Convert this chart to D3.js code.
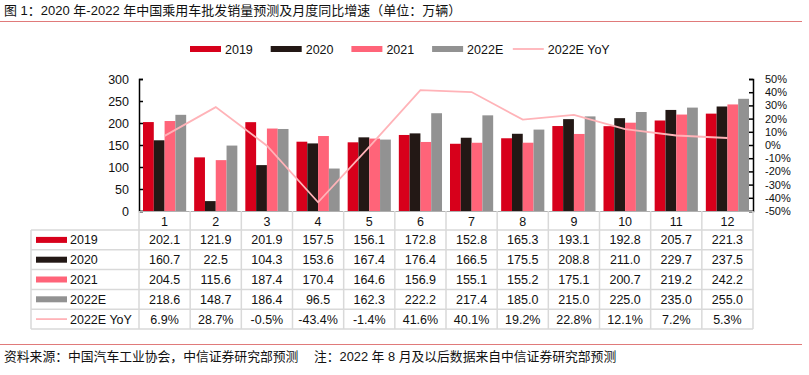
<!DOCTYPE html>
<html>
<head>
<meta charset="utf-8">
<script src="https://cdn.jsdelivr.net/npm/d3@7"></script>
<style>
  body { margin: 0; background: #fff; }
  text { font-family: "Liberation Sans", Arial, "Noto Sans CJK SC", sans-serif; fill: #111; }
</style>
</head>
<body>
<script>
  const months = ['1', '2', '3', '4', '5', '6', '7', '8', '9', '10', '11', '12'];
  const seriesNames = ['2019', '2020', '2021', '2022E'];
  const v2019 = [202.1, 121.9, 201.9, 157.5, 156.1, 172.8, 152.8, 165.3, 193.1, 192.8, 205.7, 221.3];
  const v2020 = [160.7, 22.5, 104.3, 153.6, 167.4, 176.4, 166.5, 175.5, 208.8, 211.0, 229.7, 237.5];
  const v2021 = [204.5, 115.6, 187.4, 170.4, 164.6, 156.9, 155.1, 155.2, 175.1, 200.7, 219.2, 242.2];
  const v2022 = [218.6, 148.7, 186.4, 96.5, 162.3, 222.2, 217.4, 185.0, 215.0, 225.0, 235.0, 255.0];
  const yoy = [6.9, 28.7, -0.5, -43.4, -1.4, 41.6, 40.1, 19.2, 22.8, 12.1, 7.2, 5.3];
  const leftTicks = [0, 50, 100, 150, 200, 250, 300];
  const rightTicks = [-50, -40, -30, -20, -10, 0, 10, 20, 30, 40, 50];

  const barValues = [v2019, v2020, v2021, v2022];
  const colors = ['#d7001b', '#231815', '#ff6479', '#929292'];
  const lineColor = '#ffb3b8';
  const gridColor = '#d9d9d9';

  const W = 809, H = 375;
  const plotL = 139, plotR = 753, plotT = 79, plotB = 211;
  const tableLeft = 31, rowH = 19.8, tableTop = 230;

  const svg = d3.select('body').append('svg')
    .attr('width', W).attr('height', H);

  // title + rules
  svg.append('text').attr('x', 4).attr('y', 15)
    .style('font-size', '13px')
    .text('图 1：2020 年-2022 年中国乘用车批发销量预测及月度同比增速（单位：万辆）');
  svg.append('line').attr('x1', 0).attr('x2', 802).attr('y1', 21.5).attr('y2', 21.5)
    .attr('stroke', '#e07a7a').attr('stroke-width', 1);
  svg.append('line').attr('x1', 0).attr('x2', 802).attr('y1', 344.5).attr('y2', 344.5)
    .attr('stroke', '#e07a7a').attr('stroke-width', 1);
  svg.append('text').attr('x', 4).attr('y', 361)
    .style('font-size', '12.8px')
    .text('资料来源：中国汽车工业协会，中信证券研究部预测');
  svg.append('text').attr('x', 314).attr('y', 361)
    .style('font-size', '12.8px')
    .text('注：2022 年 8 月及以后数据来自中信证券研究部预测');

  // scales
  const x = d3.scaleBand().domain(months).range([plotL, plotR]);
  const xs = d3.scaleBand().domain(seriesNames).range([0, x.bandwidth()]).paddingOuter(0.37);
  const y = d3.scaleLinear().domain([0, 300]).range([plotB, plotT]);
  const y2 = d3.scaleLinear().domain([-50, 50]).range([plotB, plotT]);

  // bars
  seriesNames.forEach((s, si) => {
    svg.append('g').selectAll('rect').data(barValues[si]).join('rect')
      .attr('x', (d, i) => x(months[i]) + xs(s))
      .attr('width', xs.bandwidth())
      .attr('y', d => y(d))
      .attr('height', d => y(0) - y(d))
      .attr('fill', colors[si]);
  });

  // YoY line
  svg.append('path').datum(yoy)
    .attr('fill', 'none').attr('stroke', lineColor).attr('stroke-width', 1.8)
    .attr('d', d3.line().x((d, i) => x(months[i]) + x.bandwidth() / 2).y(d => y2(d)));

  // axes
  const gl = svg.append('g').attr('transform', `translate(${plotL},0)`)
    .call(d3.axisLeft(y).tickValues(leftTicks).tickSize(-4).tickPadding(10));
  gl.select('.domain').attr('stroke', '#000').attr('stroke-width', 1.5);
  gl.selectAll('.tick line').attr('stroke', '#000').attr('stroke-width', 1.5);
  gl.selectAll('text').style('font-size', '12.5px').attr('fill', '#111');

  const gr = svg.append('g').attr('transform', `translate(${plotR},0)`)
    .call(d3.axisRight(y2).tickValues(rightTicks).tickSize(-4).tickPadding(12).tickFormat(d => d + '%'));
  gr.select('.domain').attr('stroke', '#000').attr('stroke-width', 1.5);
  gr.selectAll('.tick line').attr('stroke', '#000').attr('stroke-width', 1.5);
  gr.selectAll('text').style('font-size', '11px').attr('fill', '#111');

  // baseline
  svg.append('line').attr('x1', plotL).attr('x2', plotR).attr('y1', plotB + 0.5).attr('y2', plotB + 0.5)
    .attr('stroke', '#b0b0b0');

  // data table
  const rowLabels = ['2019', '2020', '2021', '2022E', '2022E YoY'];
  const rowData = [v2019, v2020, v2021, v2022, yoy];
  const tableBottom = tableTop + rowH * rowLabels.length;
  const grid = svg.append('g').attr('stroke', gridColor).attr('stroke-width', 1.5);
  d3.range(rowLabels.length + 1).forEach(r => {
    grid.append('line').attr('x1', tableLeft).attr('x2', plotR)
      .attr('y1', tableTop + r * rowH).attr('y2', tableTop + r * rowH);
  });
  grid.append('line').attr('x1', tableLeft).attr('x2', tableLeft).attr('y1', tableTop).attr('y2', tableBottom);
  months.forEach(m => {
    grid.append('line').attr('x1', x(m)).attr('x2', x(m)).attr('y1', plotB).attr('y2', tableBottom);
  });
  grid.append('line').attr('x1', plotR).attr('x2', plotR).attr('y1', plotB).attr('y2', tableBottom);

  svg.append('g').selectAll('text').data(months).join('text')
    .attr('x', d => x(d) + x.bandwidth() / 2).attr('y', plotB + 14.5)
    .attr('text-anchor', 'middle').style('font-size', '12.5px').text(d => d);

  rowLabels.forEach((lab, r) => {
    const cy = tableTop + r * rowH + rowH / 2;
    if (r < 4) {
      svg.append('rect').attr('x', 36).attr('y', cy - 3).attr('width', 31).attr('height', 6).attr('fill', colors[r]);
    } else {
      svg.append('line').attr('x1', 36).attr('x2', 67).attr('y1', cy).attr('y2', cy)
        .attr('stroke', lineColor).attr('stroke-width', 1.8);
    }
    svg.append('text').attr('x', 70).attr('y', cy + 4.5).style('font-size', '12.5px').text(lab);
    svg.append('g').selectAll('text').data(rowData[r]).join('text')
      .attr('x', (d, i) => x(months[i]) + x.bandwidth() / 2).attr('y', cy + 4.5)
      .attr('text-anchor', 'middle').style('font-size', '12.5px')
      .text(d => r < 4 ? d.toFixed(1) : d.toFixed(1) + '%');
  });

  // legend
  const legendNames = seriesNames.concat(['2022E YoY']);
  const lg = svg.append('g');
  legendNames.forEach((n, i) => {
    const lx = 190 + i * 80.7, ly = 49;
    if (i < 4) {
      lg.append('rect').attr('x', lx).attr('y', ly - 3).attr('width', 31).attr('height', 6).attr('fill', colors[i]);
    } else {
      lg.append('line').attr('x1', lx).attr('x2', lx + 31).attr('y1', ly).attr('y2', ly)
        .attr('stroke', lineColor).attr('stroke-width', 1.8);
    }
    lg.append('text').attr('x', lx + 35).attr('y', ly + 4.5).style('font-size', '12.5px').text(n);
  });
</script>
</body>
</html>
